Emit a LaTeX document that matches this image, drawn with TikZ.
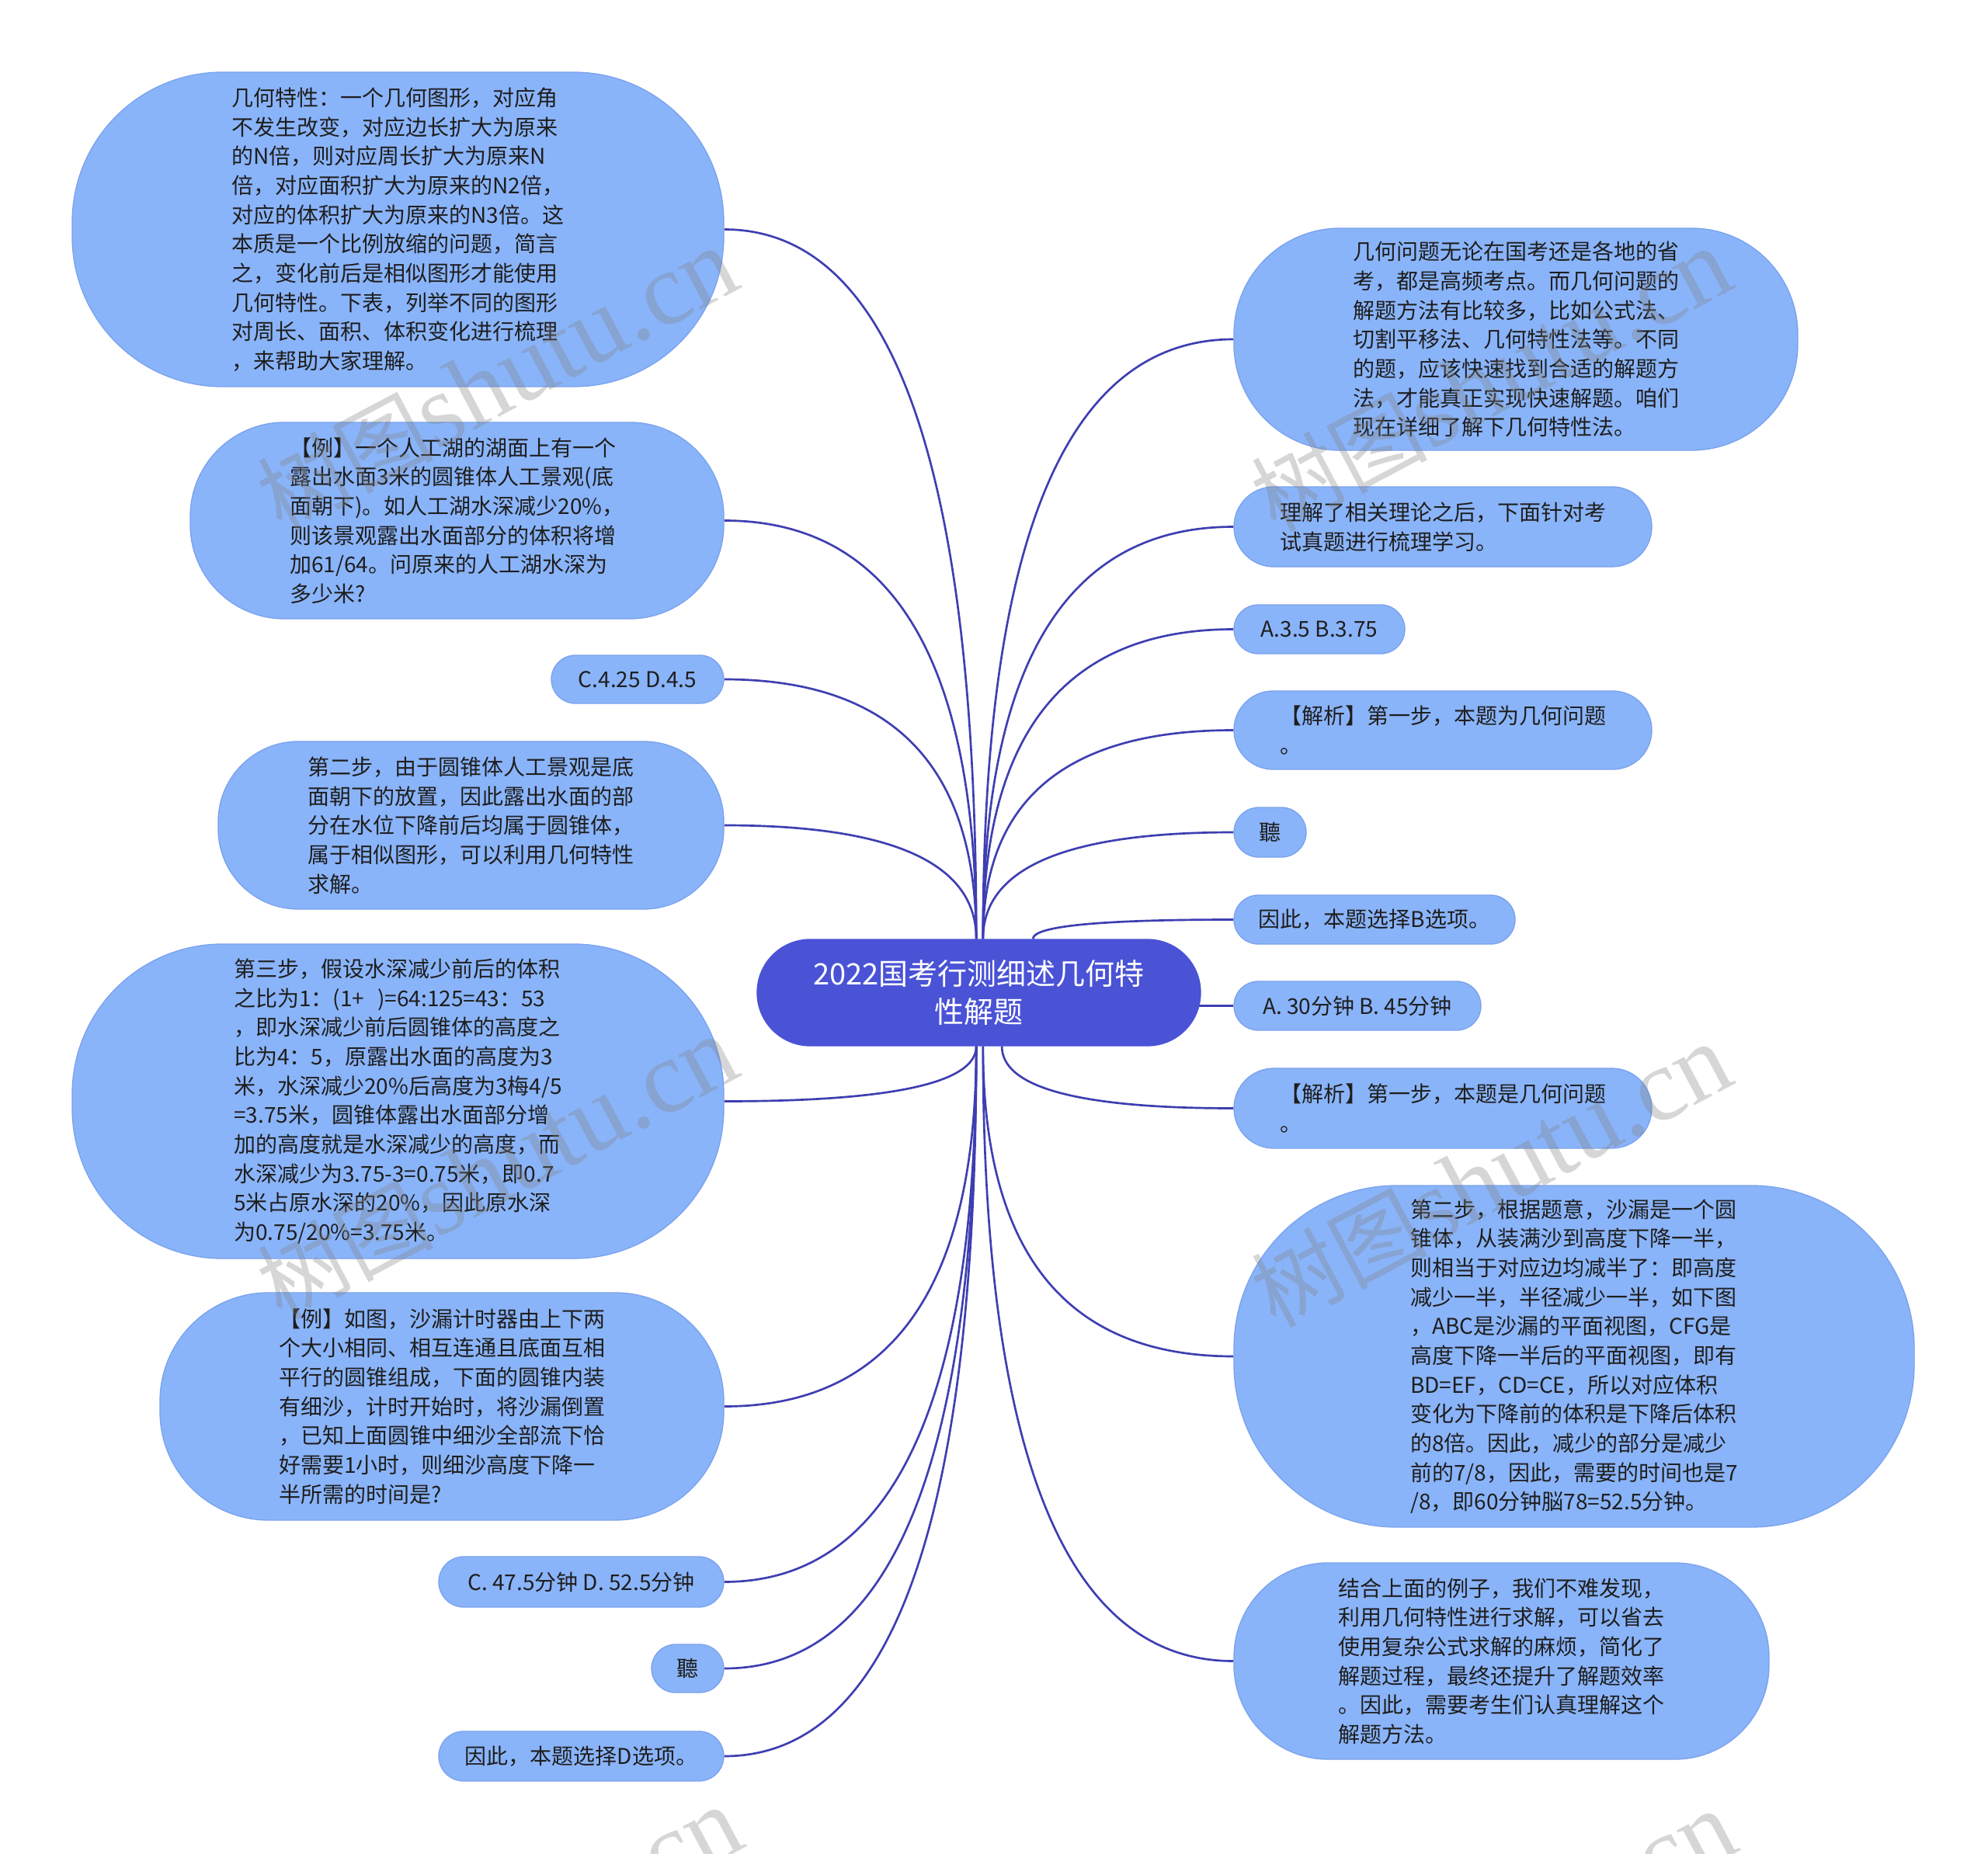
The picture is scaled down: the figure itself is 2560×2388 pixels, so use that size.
\documentclass[tikz,border=0pt]{standalone}
\usepackage{fontspec}
\setmainfont{Noto Sans CJK SC}
\newfontfamily\cjk{Noto Sans CJK SC}
\newfontfamily\wmserif{Liberation Serif}
\usetikzlibrary{calc,backgrounds}
\definecolor{nodeblue}{RGB}{138,180,249}
\definecolor{nodeedge}{RGB}{122,162,238}
\definecolor{rootblue}{RGB}{74,82,214}
\definecolor{linkblue}{RGB}{62,62,178}
\definecolor{txt}{RGB}{30,30,30}
\newcommand\qlink[2]{\draw[link] (#1) .. controls ($(#1)!0.667!(#1 |- #2)$) and ($(#2)!0.667!(#1 |- #2)$) .. (#2);}
\newcommand\wmtext{{\cjk\fontsize{34pt}{34pt}\selectfont 树图}{\wmserif\fontsize{40pt}{40pt}\selectfont shutu.cn}}
\begin{document}
\begin{tikzpicture}[x=0.3pt,y=-0.3pt,
  leaf/.style={rectangle, fill=nodeblue, draw=nodeedge, line width=0.4pt, align=left, text=txt,
    font=\fontsize{8.4pt}{11.3pt}\selectfont, inner sep=0pt},
  root/.style={rectangle, fill=rootblue, draw=rootblue, align=center, text=white,
    font=\fontsize{11.4pt}{14.7pt}\selectfont, inner sep=0pt},
  link/.style={draw=linkblue, line width=0.8pt},
  wm/.style={text=gray, opacity=0.32, rotate=28, inner sep=0pt}
]
\begin{scope}[on background layer]
\fill[white] (0,0) rectangle (2560,2388);
\end{scope}
\useasboundingbox (0,0) rectangle (2560,2388);

% root
\node[root, minimum width=171.3pt, minimum height=41.1pt, rounded corners=20.5pt] (root) at (1260.5,1278.5)
  {2022国考行测细述几何特\\性解题};

% left nodes
\node[leaf, minimum width=251.7pt, minimum height=121.5pt, rounded corners=58pt] (L1) at (512.5,295.5)
  {几何特性：一个几何图形，对应角\\不发生改变，对应边长扩大为原来\\的N倍，则对应周长扩大为原来N\\倍，对应面积扩大为原来的N2倍，\\对应的体积扩大为原来的N3倍。这\\本质是一个比例放缩的问题，简言\\之，变化前后是相似图形才能使用\\几何特性。下表，列举不同的图形\\对周长、面积、体积变化进行梳理\\，来帮助大家理解。};
\node[leaf, minimum width=206.1pt, minimum height=75.9pt, rounded corners=36.4pt] (L2) at (588.5,670.5)
  {【例】一个人工湖的湖面上有一个\\露出水面3米的圆锥体人工景观(底\\面朝下)。如人工湖水深减少20\%，\\则该景观露出水面部分的体积将增\\加61/64。问原来的人工湖水深为\\多少米?};
\node[leaf, minimum width=66.6pt, minimum height=18.6pt, rounded corners=9.3pt] (L3) at (821,875)
  {C.4.25 D.4.5};
\node[leaf, minimum width=195.3pt, minimum height=64.8pt, rounded corners=31pt] (L4) at (606.5,1063)
  {第二步，由于圆锥体人工景观是底\\面朝下的放置，因此露出水面的部\\分在水位下降前后均属于圆锥体，\\属于相似图形，可以利用几何特性\\求解。};
\node[leaf, minimum width=251.7pt, minimum height=121.5pt, rounded corners=58pt] (L5) at (512.5,1418.5)
  {第三步，假设水深减少前后的体积\\之比为1：(1+\hspace{0.6em})=64:125=43：53\\，即水深减少前后圆锥体的高度之\\比为4：5，原露出水面的高度为3\\米，水深减少20\%后高度为3梅4/5\\=3.75米，圆锥体露出水面部分增\\加的高度就是水深减少的高度，而\\水深减少为3.75-3=0.75米，即0.7\\5米占原水深的20\%，因此原水深\\为0.75/20\%=3.75米。};
\node[leaf, minimum width=217.8pt, minimum height=87.9pt, rounded corners=42pt] (L6) at (569,1811.5)
  {【例】如图，沙漏计时器由上下两\\个大小相同、相互连通且底面互相\\平行的圆锥组成，下面的圆锥内装\\有细沙，计时开始时，将沙漏倒置\\，已知上面圆锥中细沙全部流下恰\\好需要1小时，则细沙高度下降一\\半所需的时间是?};
\node[leaf, minimum width=110.1pt, minimum height=19.5pt, rounded corners=9.7pt] (L7) at (748.5,2037.5)
  {C. 47.5分钟 D. 52.5分钟};
\node[leaf, minimum width=27.9pt, minimum height=18.6pt, rounded corners=9.3pt] (L8) at (885.5,2149)
  {聽};
\node[leaf, minimum width=110.1pt, minimum height=19.2pt, rounded corners=9.6pt] (L9) at (748.5,2262)
  {因此，本题选择D选项。};

% right nodes
\node[leaf, minimum width=217.8pt, minimum height=85.8pt, rounded corners=41pt] (R1) at (1952,437)
  {几何问题无论在国考还是各地的省\\考，都是高频考点。而几何问题的\\解题方法有比较多，比如公式法、\\切割平移法、几何特性法等。不同\\的题，应该快速找到合适的解题方\\法，才能真正实现快速解题。咱们\\现在详细了解下几何特性法。};
\node[leaf, minimum width=161.4pt, minimum height=30.9pt, rounded corners=15.4pt] (R2) at (1858,678.5)
  {理解了相关理论之后，下面针对考\\试真题进行梳理学习。};
\node[leaf, minimum width=66pt, minimum height=18.9pt, rounded corners=9.4pt] (R3) at (1699,810.5)
  {A.3.5 B.3.75};
\node[leaf, minimum width=161.4pt, minimum height=30.3pt, rounded corners=15.1pt] (R4) at (1858,940.5)
  {【解析】第一步，本题为几何问题\\。};
\node[leaf, minimum width=27.9pt, minimum height=19.2pt, rounded corners=9.6pt] (R5) at (1635.5,1072)
  {聽};
\node[leaf, minimum width=108.6pt, minimum height=18.9pt, rounded corners=9.4pt] (R6) at (1770,1184.5)
  {因此，本题选择B选项。};
\node[leaf, minimum width=95.4pt, minimum height=18.9pt, rounded corners=9.4pt] (R7) at (1748,1295.5)
  {A. 30分钟 B. 45分钟};
\node[leaf, minimum width=161.4pt, minimum height=30.9pt, rounded corners=15.4pt] (R8) at (1858,1427.5)
  {【解析】第一步，本题是几何问题\\。};
\node[leaf, minimum width=262.8pt, minimum height=132pt, rounded corners=63pt] (R9) at (2027,1747)
  {第二步，根据题意，沙漏是一个圆\\锥体，从装满沙到高度下降一半，\\则相当于对应边均减半了：即高度\\减少一半，半径减少一半，如下图\\，ABC是沙漏的平面视图，CFG是\\高度下降一半后的平面视图，即有\\BD=EF，CD=CE，所以对应体积\\变化为下降前的体积是下降后体积\\的8倍。因此，减少的部分是减少\\前的7/8，因此，需要的时间也是7\\/8，即60分钟脳78=52.5分钟。};
\node[leaf, minimum width=206.7pt, minimum height=75.9pt, rounded corners=36.4pt] (R10) at (1933.5,2139.5)
  {结合上面的例子，我们不难发现，\\利用几何特性进行求解，可以省去\\使用复杂公式求解的麻烦，简化了\\解题过程，最终还提升了解题效率\\。因此，需要考生们认真理解这个\\解题方法。};

% connector start points on the root
\coordinate (tl) at ([xshift=-1pt]root.north);
\coordinate (tr) at ([xshift=1.6pt]root.north);
\coordinate (bl) at ([xshift=-1pt]root.south);
\coordinate (br) at ([xshift=1.6pt]root.south);
\coordinate (r6s) at ([xshift=20.9pt]root.north);
\coordinate (r8s) at ([xshift=8.9pt]root.south);
\coordinate (r7s) at ([xshift=-3pt]root.east |- R7.west);

\begin{scope}[on background layer]
\qlink{tl}{L1.east}
\qlink{tl}{L2.east}
\qlink{tl}{L3.east}
\qlink{tl}{L4.east}
\qlink{bl}{L5.east}
\qlink{bl}{L6.east}
\qlink{bl}{L7.east}
\qlink{bl}{L8.east}
\qlink{bl}{L9.east}
\qlink{tr}{R1.west}
\qlink{tr}{R2.west}
\qlink{tr}{R3.west}
\qlink{tr}{R4.west}
\qlink{tr}{R5.west}
\qlink{r6s}{R6.west}
\draw[link] (r7s) -- (R7.west);
\qlink{r8s}{R8.west}
\qlink{br}{R9.west}
\qlink{br}{R10.west}
\end{scope}

% watermarks
\begin{scope}
\clip (0,0) rectangle (2560,2388);
\node[wm] (wm1) at (640,490) {\wmtext};
\node[wm] (wm2) at (1920,490) {\wmtext};
\node[wm] (wm3) at (640,1505) {\wmtext};
\node[wm] (wm4) at (1920,1515) {\wmtext};
\node[wm, font=\wmserif\fontsize{40pt}{40pt}\selectfont] (wm5) at (880,2388) {.cn};
\node[wm, font=\wmserif\fontsize{40pt}{40pt}\selectfont] (wm6) at (2160,2393) {.cn};
\end{scope}
\end{tikzpicture}
\end{document}
